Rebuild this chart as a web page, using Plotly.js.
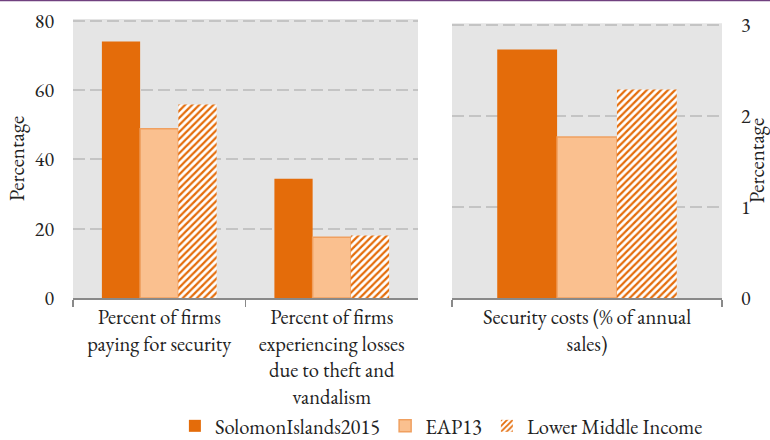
<!DOCTYPE html>
<html>
<head>
<meta charset="utf-8">
<script src="https://cdn.plot.ly/plotly-3.0.1.min.js"></script>
<style>
  body { margin: 0; background: #fff; }
  #chart { width: 770px; height: 440px; }
</style>
</head>
<body>
<div id="chart"></div>
<script>
// data
var catsLeft = ["Percent of firms<br>paying for security",
                "Percent of firms<br>experiencing losses<br>due to theft and<br>vandalism"];
var catsRight = ["Security costs (% of annual<br>sales)"];
var seriesNames = ["SolomonIslands2015", "EAP13", "Lower Middle Income"];
var solomonLeft = [74.0, 34.4];
var eapLeft = [48.8, 17.5];
var lmiLeft = [55.8, 18.0];
var solomonRight = [2.73];
var eapRight = [1.77];
var lmiRight = [2.29];
var ticksLeft = [0, 20, 40, 60, 80];
var ticksRight = [0, 1, 2, 3];

var dark = "#e46c0a", light = "#fac08f";
var fnt = "'EB Garamond', 'Liberation Serif', serif";
var ink = "#222222";

function barStyle(i) {
  if (i == 0) return {color: dark};
  if (i == 1) return {color: light, line: {color: "#f0a060", width: 1.5}};
  return {color: dark, pattern: {shape: "/", fgcolor: dark, bgcolor: "#ffffff", size: 5, solidity: 0.45}};
}

var leftVals = [solomonLeft, eapLeft, lmiLeft];
var rightVals = [solomonRight, eapRight, lmiRight];
var traces = [];
for (let i = 0; i < 3; i++) {
  traces.push({
    x: catsLeft, y: leftVals[i], type: "bar", name: seriesNames[i],
    legendgroup: "g" + i, marker: barStyle(i), xaxis: "x", yaxis: "y",
    hoverinfo: "y"
  });
}
for (let i = 0; i < 3; i++) {
  traces.push({
    x: catsRight, y: rightVals[i], type: "bar", name: seriesNames[i],
    legendgroup: "g" + i, showlegend: false, marker: barStyle(i), xaxis: "x2", yaxis: "y2",
    hoverinfo: "y"
  });
}

var f = function(sz) { return {family: fnt, size: sz, color: ink}; };

var layout = {
  width: 770, height: 440,
  margin: {l: 73, r: 48, t: 19, b: 142, autoexpand: false},
  paper_bgcolor: "#ffffff",
  font: f(20),
  barmode: "group", bargap: 0.335, bargroupgap: 0,
  showlegend: true,
  legend: {orientation: "h", x: 0.157, xanchor: "left", y: -0.4588, yanchor: "middle",
           font: f(20.5), traceorder: "normal", itemwidth: 30, bgcolor: "rgba(0,0,0,0)"},
  xaxis: {domain: [0, 0.5316], anchor: "y", type: "category",
          showline: true, linecolor: "#898989", linewidth: 1.5,
          ticks: "outside", tickson: "boundaries", ticklen: 7, tickcolor: "#898989", tickwidth: 1.5,
          tickfont: f(20.5), showgrid: false, fixedrange: true},
  xaxis2: {domain: [0.584, 1], anchor: "y2", type: "category",
           showline: true, linecolor: "#898989", linewidth: 1.5,
           ticks: "outside", tickson: "boundaries", ticklen: 7, tickcolor: "#898989", tickwidth: 1.5,
           tickfont: f(20.5), showgrid: false, fixedrange: true},
  yaxis: {domain: [0, 1], anchor: "x", range: [0, 80.5], tickvals: ticksLeft,
          showgrid: true, gridcolor: "#c4c4c4", gridwidth: 2, griddash: "12px,5px",
          zeroline: false, showline: false, ticks: "", ticklabelstandoff: 18, tickfont: f(20),
          title: {text: "Percentage", font: f(21), standoff: 4}, fixedrange: true},
  yaxis2: {domain: [0, 0.985], anchor: "x2", side: "right", range: [0, 3.02], tickvals: ticksRight,
           showgrid: true, gridcolor: "#c4c4c4", gridwidth: 2, griddash: "12px,5px",
           zeroline: false, showline: false, ticks: "", ticklabelstandoff: 18, tickfont: f(20),
           title: {text: "Percentage", font: f(21), standoff: 5}, fixedrange: true},
  shapes: [
    // plot backgrounds
    {type: "rect", xref: "x domain", yref: "y domain", x0: 0, x1: 1, y0: 0, y1: 1,
     fillcolor: "#e5e5e5", line: {width: 0}, layer: "below"},
    {type: "rect", xref: "x2 domain", yref: "y2 domain", x0: 0, x1: 1, y0: 0, y1: 1,
     fillcolor: "#e5e5e5", line: {width: 0}, layer: "below"},
    // purple rule along the top
    {type: "line", xref: "paper", yref: "paper", x0: -0.2, x1: 1.2, y0: 1.066, y1: 1.066,
     line: {color: "#70407f", width: 1.5}}
  ]
};

Plotly.newPlot("chart", traces, layout, {displayModeBar: false, staticPlot: true});
</script>
</body>
</html>
